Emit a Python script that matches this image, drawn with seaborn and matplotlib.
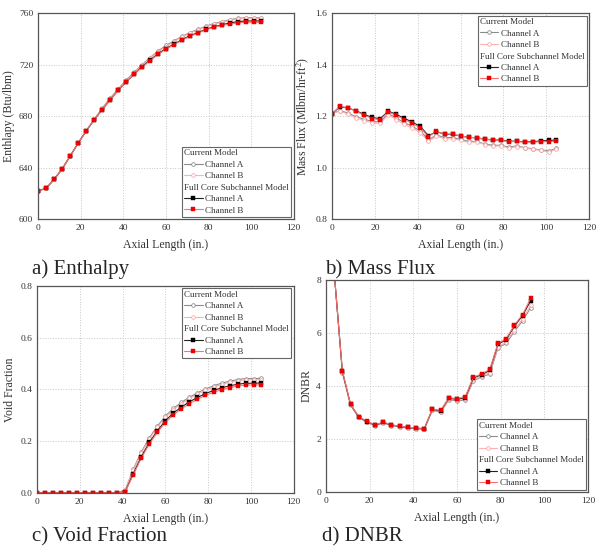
import numpy as np
import pandas as pd
import seaborn as sns
import matplotlib.pyplot as plt
from matplotlib.lines import Line2D

# Datos
axial = [0, 3.75, 7.5, 11.25, 15, 18.75, 22.5, 26.25, 30, 33.75, 37.5, 41.25, 45, 48.75,
         52.5, 56.25, 60, 63.75, 67.5, 71.25, 75, 78.75, 82.5, 86.25, 90, 93.75, 97.5, 101.25, 104.7]

enth_cur_a = [622, 624, 631, 639, 649, 659, 668.5, 677.5, 686, 694, 701, 708, 714, 720, 725.5,
              730.5, 735, 738.5, 742, 745, 747.5, 750, 752, 753.5, 755, 756, 756.5, 756.5, 756.5]
enth_cur_b = [622, 624, 631, 639, 649, 659, 668.5, 677.5, 685.5, 693.5, 700.5, 707.5, 713.5, 719.5, 725,
              730, 734, 738, 741.5, 744.5, 747, 749.5, 751.5, 753, 754.5, 755.5, 756, 756, 756]
enth_full_a = [622, 624, 631, 639, 649, 659, 668.5, 677, 685, 692.5, 700, 706.5, 712.5, 718.5, 723.5,
               728.5, 732.5, 736, 739.5, 742.5, 745, 747.5, 749.5, 751, 752.5, 753.5, 754, 754, 754]
enth_full_b = [622, 624, 631, 639, 649, 659, 668.5, 677, 685, 692.5, 700, 706.5, 712.5, 718, 723,
               728, 732, 735.5, 739, 742, 744.5, 747, 749, 750.5, 751.5, 752.5, 753, 753, 753]

mflux_cur_a = [1.21, 1.222, 1.212, 1.198, 1.188, 1.180, 1.177, 1.210, 1.193, 1.175, 1.160, 1.143, 1.108,
               1.127, 1.117, 1.117, 1.110, 1.102, 1.102, 1.092, 1.087, 1.087, 1.080, 1.084, 1.078, 1.073,
               1.069, 1.065, 1.075]
mflux_cur_b = [1.21, 1.220, 1.208, 1.194, 1.183, 1.175, 1.172, 1.205, 1.187, 1.168, 1.153, 1.136, 1.102,
               1.122, 1.112, 1.113, 1.106, 1.098, 1.100, 1.090, 1.083, 1.085, 1.076, 1.082, 1.076, 1.071,
               1.067, 1.061, 1.072]
mflux_full_a = [1.21, 1.236, 1.232, 1.221, 1.207, 1.195, 1.190, 1.220, 1.207, 1.192, 1.177, 1.160, 1.124,
                1.140, 1.130, 1.129, 1.123, 1.118, 1.116, 1.111, 1.108, 1.107, 1.103, 1.103, 1.100, 1.101,
                1.104, 1.106, 1.107]
mflux_full_b = [1.21, 1.238, 1.233, 1.219, 1.204, 1.191, 1.186, 1.217, 1.203, 1.187, 1.172, 1.155, 1.120,
                1.141, 1.131, 1.130, 1.123, 1.118, 1.116, 1.110, 1.108, 1.106, 1.101, 1.102, 1.099, 1.099,
                1.101, 1.101, 1.104]

void_cur_a = [0, 0, 0, 0, 0, 0, 0, 0, 0, 0, 0, 0.012, 0.092, 0.158, 0.213, 0.258, 0.297, 0.327, 0.350,
              0.370, 0.387, 0.402, 0.414, 0.424, 0.432, 0.438, 0.442, 0.442, 0.443]
void_cur_b = [0, 0, 0, 0, 0, 0, 0, 0, 0, 0, 0, 0.010, 0.088, 0.153, 0.208, 0.253, 0.292, 0.322, 0.345,
              0.365, 0.382, 0.397, 0.409, 0.419, 0.427, 0.433, 0.437, 0.437, 0.438]
void_full_a = [0, 0, 0, 0, 0, 0, 0, 0, 0, 0, 0, 0.005, 0.075, 0.140, 0.195, 0.240, 0.279, 0.309, 0.332,
               0.352, 0.369, 0.384, 0.396, 0.406, 0.414, 0.420, 0.424, 0.424, 0.425]
void_full_b = [0, 0, 0, 0, 0, 0, 0, 0, 0, 0, 0, 0.004, 0.070, 0.134, 0.189, 0.234, 0.272, 0.302, 0.325,
               0.345, 0.362, 0.377, 0.389, 0.399, 0.407, 0.413, 0.417, 0.417, 0.418]

axial_dnbr = axial[1:26]
dnbr_cur_a = [8.3, 4.50, 3.27, 2.81, 2.62, 2.50, 2.60, 2.50, 2.45, 2.41, 2.38, 2.36, 3.08, 3.00, 3.48,
              3.43, 3.47, 4.20, 4.33, 4.45, 5.43, 5.60, 6.05, 6.45, 6.95]
dnbr_cur_b = [8.3, 4.52, 3.28, 2.82, 2.63, 2.51, 2.61, 2.51, 2.46, 2.42, 2.39, 2.37, 3.10, 3.02, 3.50,
              3.46, 3.50, 4.24, 4.37, 4.50, 5.48, 5.65, 6.12, 6.52, 7.05]
dnbr_full_a = [8.3, 4.55, 3.30, 2.83, 2.65, 2.52, 2.62, 2.52, 2.47, 2.43, 2.40, 2.38, 3.12, 3.05, 3.53,
               3.50, 3.55, 4.30, 4.42, 4.58, 5.57, 5.74, 6.25, 6.65, 7.22]
dnbr_full_b = [8.3, 4.57, 3.31, 2.84, 2.66, 2.53, 2.63, 2.53, 2.48, 2.44, 2.41, 2.39, 3.13, 3.07, 3.55,
               3.52, 3.58, 4.33, 4.45, 4.62, 5.60, 5.78, 6.29, 6.69, 7.31]

sns.set_style('white')
plt.rcParams['font.family'] = ['Liberation Serif', 'DejaVu Serif']
plt.rcParams['mathtext.fontset'] = 'stix'

# Estilos de cada serie
styles = {
    'cur_a': dict(color='#8c8c8c', marker='o', markersize=2.6, markerfacecolor='white',
                  markeredgecolor='#7a7a7a', markeredgewidth=0.5, linewidth=0.8),
    'cur_b': dict(color='#ffb0b0', marker='o', markersize=2.6, markerfacecolor='white',
                  markeredgecolor='#ff9a9a', markeredgewidth=0.5, linewidth=0.8),
    'full_a': dict(color='#222222', marker='s', markersize=2.3, markerfacecolor='black',
                   markeredgecolor='black', markeredgewidth=0.3, linewidth=0.8),
    'full_b': dict(color='#ff7070', marker='s', markersize=2.3, markerfacecolor='#ee0000',
                   markeredgecolor='#ee0000', markeredgewidth=0.3, linewidth=0.8),
}


def draw_panel(ax, x, series, ylim, yticks, ylabel):
    for key, y in series.items():
        sns.lineplot(x=x, y=y, ax=ax, estimator=None, sort=False, **styles[key])
    ax.set_xlim(0, 120)
    ax.set_xticks(range(0, 121, 20))
    ax.set_ylim(*ylim)
    ax.set_yticks(yticks)
    ax.grid(True, linestyle=':', color='#c8c8c8', linewidth=0.7)
    ax.tick_params(direction='in', length=3, labelsize=6.8, colors='#333333', width=0.6)
    for s in ax.spines.values():
        s.set_color('#555555')
        s.set_linewidth(0.9)
    ax.set_xlabel('Axial Length (in.)', fontsize=8.5, color='#333333', labelpad=5)
    ax.set_ylabel(ylabel, fontsize=8.5, color='#333333', labelpad=3)


def add_legend(ax, loc):
    blank = Line2D([], [], linestyle='none')
    handles = [blank] + [Line2D([], [], **styles[k]) for k in ['cur_a', 'cur_b']] + \
              [blank] + [Line2D([], [], **styles[k]) for k in ['full_a', 'full_b']]
    labels = ['Current Model', 'Channel A', 'Channel B',
              'Full Core Subchannel Model', 'Channel A', 'Channel B']
    leg = ax.legend(handles, labels, loc=loc, fontsize=6.5, frameon=True, fancybox=False,
                    edgecolor='#666666', framealpha=1, handlelength=2.0, handletextpad=0.3,
                    labelspacing=0.35, borderpad=0.25, borderaxespad=0.25)
    leg.get_frame().set_linewidth(0.8)
    # Las cabeceras sin simbolo
    rows = leg._legend_handle_box.get_children()[0].get_children()
    for i in (0, 3):
        rows[i].get_children()[0].width = 0
        rows[i].sep = 0
    for t in leg.get_texts():
        t.set_color('#333333')
    return leg


fig = plt.figure(figsize=(5.97, 5.52), dpi=100)
ax_a = fig.add_axes([0.064, 0.603, 0.428, 0.373])
ax_b = fig.add_axes([0.556, 0.603, 0.431, 0.373])
ax_c = fig.add_axes([0.062, 0.107, 0.430, 0.375])
ax_d = fig.add_axes([0.546, 0.109, 0.439, 0.384])

draw_panel(ax_a, axial, {'cur_a': enth_cur_a, 'cur_b': enth_cur_b,
                         'full_a': enth_full_a, 'full_b': enth_full_b},
           (600, 760), range(600, 761, 40), 'Enthlapy (Btu/lbm)')
add_legend(ax_a, 'lower right')

draw_panel(ax_b, axial, {'cur_a': mflux_cur_a, 'cur_b': mflux_cur_b,
                         'full_a': mflux_full_a, 'full_b': mflux_full_b},
           (0.8, 1.6), np.round(np.arange(0.8, 1.61, 0.2), 1), 'Mass Flux (Mlbm/hr-ft$^2$)')
add_legend(ax_b, 'upper right')

draw_panel(ax_c, axial, {'cur_a': void_cur_a, 'cur_b': void_cur_b,
                         'full_a': void_full_a, 'full_b': void_full_b},
           (0, 0.8), np.round(np.arange(0, 0.81, 0.2), 1), 'Void Fraction')
add_legend(ax_c, 'upper right')

draw_panel(ax_d, axial_dnbr, {'cur_a': dnbr_cur_a, 'cur_b': dnbr_cur_b,
                              'full_a': dnbr_full_a, 'full_b': dnbr_full_b},
           (0, 8), range(0, 9, 2), 'DNBR')
add_legend(ax_d, 'lower right')

for ax in (ax_b, ax_c):
    ax.yaxis.set_major_formatter(plt.FormatStrFormatter('%.1f'))

fig.text(0.054, 0.512, 'a) Enthalpy', fontsize=15, ha='left', va='center')
fig.text(0.545, 0.512, 'b) Mass Flux', fontsize=15, ha='left', va='center')
fig.text(0.054, 0.027, 'c) Void Fraction', fontsize=15, ha='left', va='center')
fig.text(0.540, 0.027, 'd) DNBR', fontsize=15, ha='left', va='center')

plt.savefig('out.png', dpi=100)
